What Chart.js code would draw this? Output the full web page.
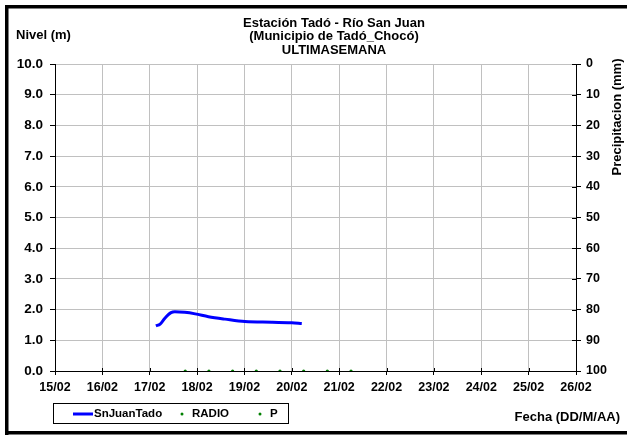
<!DOCTYPE html>
<html>
<head>
<meta charset="utf-8">
<script src="https://cdn.jsdelivr.net/npm/chart.js@4.4.1/dist/chart.umd.min.js"></script>
<style>
  html, body { margin: 0; padding: 0; background: #fff; }
</style>
</head>
<body>
<canvas id="grafico" width="627" height="436"></canvas>
<script>
// ── DADOS (x = dias desde 15/02)
const FECHAS = ['15/02', '16/02', '17/02', '18/02', '19/02', '20/02', '21/02', '22/02', '23/02', '24/02', '25/02', '26/02'];
const NIVEL_DIAS = [2.13, 2.22, 2.32, 2.45, 2.53, 2.74, 2.96, 3.24, 3.59, 4.01, 4.58, 5.00, 5.21];
const NIVEL_VALORES = [1.47, 1.53, 1.72, 1.90, 1.93, 1.91, 1.86, 1.77, 1.69, 1.61, 1.59, 1.57, 1.55];
const RADIO_DIAS = [2.75, 3.25, 3.75, 4.25, 4.75, 5.25, 5.75, 6.25];
const RADIO_VALORES = [0, 0, 0, 0, 0, 0, 0, 0];
const P_DIAS = [];
const P_VALORES = [];
const TITULO = ['Estación Tadó - Río San Juan', '(Municipio de Tadó_Chocó)', 'ULTIMASEMANA'];

const FONTE = "'Liberation Sans', Arial, sans-serif";
const AZUL = '#0000ff';
const VERDE = '#008000';
const GRADE = '#c0c0c0';

function pares(xs, ys) { return xs.map((x, i) => ({ x: x, y: ys[i] })); }

// ── TEXTOS, MOLDURA E LEGENDA
const extras = {
  id: 'extras',
  afterDraw(chart) {
    const ctx = chart.ctx;
    const area = chart.chartArea;
    ctx.save();
    // moldura
    ctx.fillStyle = '#000';
    ctx.fillRect(5, 5, 622, 3.5);
    ctx.fillRect(5, 5, 3.5, 430);
    ctx.fillRect(5, 431, 622, 3.5);

    // marcas internas (eixo direito e eixo x cruzam a linha)
    ctx.strokeStyle = '#000';
    ctx.lineWidth = 1;
    ctx.beginPath();
    chart.scales.y1.ticks.forEach(t => {
      const py = Math.round(chart.scales.y1.getPixelForValue(t.value)) + 0.5;
      ctx.moveTo(area.right - 4, py); ctx.lineTo(area.right, py);
    });
    chart.scales.x.ticks.forEach(t => {
      const px = Math.round(chart.scales.x.getPixelForValue(t.value)) + 0.5;
      ctx.moveTo(px, area.bottom - 3); ctx.lineTo(px, area.bottom);
    });
    ctx.stroke();

    ctx.fillStyle = '#000';
    ctx.textBaseline = 'middle';
    ctx.font = 'bold 13px ' + FONTE;
    ctx.textAlign = 'center';
    ctx.fillText(TITULO[0], 334, 23);
    ctx.fillText(TITULO[1], 334, 36.5);
    ctx.fillText(TITULO[2], 334, 50);

    ctx.textAlign = 'left';
    ctx.fillText('Nivel (m)', 16, 35);
    ctx.textAlign = 'right';
    ctx.fillText('Fecha (DD/M/AA)', 620, 417);

    ctx.save();
    ctx.translate(617, 117);
    ctx.rotate(-Math.PI / 2);
    ctx.textAlign = 'center';
    ctx.fillText('Precipitacion (mm)', 0, 0);
    ctx.restore();

    // legenda
    const ds = chart.data.datasets;
    ctx.strokeStyle = '#000';
    ctx.lineWidth = 1;
    ctx.strokeRect(53.5, 403.5, 235, 20);
    ctx.font = 'bold 11.5px ' + FONTE;
    ctx.textAlign = 'left';
    ctx.strokeStyle = ds[0].borderColor;
    ctx.lineWidth = 3;
    ctx.beginPath(); ctx.moveTo(73, 414); ctx.lineTo(93, 414); ctx.stroke();
    ctx.fillText(ds[0].label, 94, 414);
    [[ds[1], 182, 192], [ds[2], 260, 270]].forEach(([d, xp, xt]) => {
      ctx.fillStyle = d.pointBackgroundColor;
      ctx.beginPath(); ctx.arc(xp, 414, 1.5, 0, Math.PI * 2); ctx.fill();
      ctx.fillStyle = '#000';
      ctx.fillText(d.label, xt, 414);
    });
    ctx.restore();
  }
};

const fonteTicks = { family: FONTE, size: 12.5, weight: 'bold' };

new Chart(document.getElementById('grafico'), {
  type: 'scatter',
  data: {
    datasets: [
      {
        label: 'SnJuanTado',
        data: pares(NIVEL_DIAS, NIVEL_VALORES),
        showLine: true,
        borderColor: AZUL,
        backgroundColor: AZUL,
        borderWidth: 3,
        pointRadius: 0,
        cubicInterpolationMode: 'monotone',
        yAxisID: 'y'
      },
      {
        label: 'RADIO',
        data: pares(RADIO_DIAS, RADIO_VALORES),
        pointRadius: 1.6,
        pointBorderWidth: 0,
        pointBackgroundColor: VERDE,
        borderColor: VERDE,
        yAxisID: 'y'
      },
      {
        label: 'P',
        data: pares(P_DIAS, P_VALORES),
        pointRadius: 1.6,
        pointBorderWidth: 0,
        pointBackgroundColor: VERDE,
        borderColor: VERDE,
        yAxisID: 'y1'
      }
    ]
  },
  options: {
    responsive: false,
    animation: false,
    layout: { padding: { top: 64, left: 0, right: 0, bottom: 35 } },
    plugins: {
      legend: { display: false },
      tooltip: { enabled: false }
    },
    scales: {
      x: {
        type: 'linear',
        min: 0,
        max: 11,
        afterFit: s => { s.height = 30; },
        grid: { color: GRADE, tickColor: '#000', tickLength: 4 },
        border: { color: '#000', width: 1 },
        ticks: {
          stepSize: 1,
          autoSkip: false,
          maxRotation: 0,
          padding: 5,
          color: '#000',
          font: fonteTicks,
          callback: v => FECHAS[v]
        }
      },
      y: {
        position: 'left',
        min: 0,
        max: 10,
        afterFit: s => { s.width = 55; },
        grid: { color: GRADE, tickColor: '#000', tickLength: 5 },
        border: { color: '#000', width: 1 },
        ticks: {
          stepSize: 1,
          padding: 7,
          color: '#000',
          font: { family: FONTE, size: 13.5, weight: 'bold' },
          callback: v => v.toFixed(1)
        }
      },
      y1: {
        position: 'right',
        min: 0,
        max: 100,
        reverse: true,
        afterFit: s => { s.width = 51; },
        grid: { drawOnChartArea: false, tickColor: '#000', tickLength: 5 },
        border: { color: '#000', width: 1 },
        ticks: {
          stepSize: 10,
          padding: 5,
          color: '#000',
          font: fonteTicks
        }
      }
    }
  },
  plugins: [extras]
});
</script>
</body>
</html>
